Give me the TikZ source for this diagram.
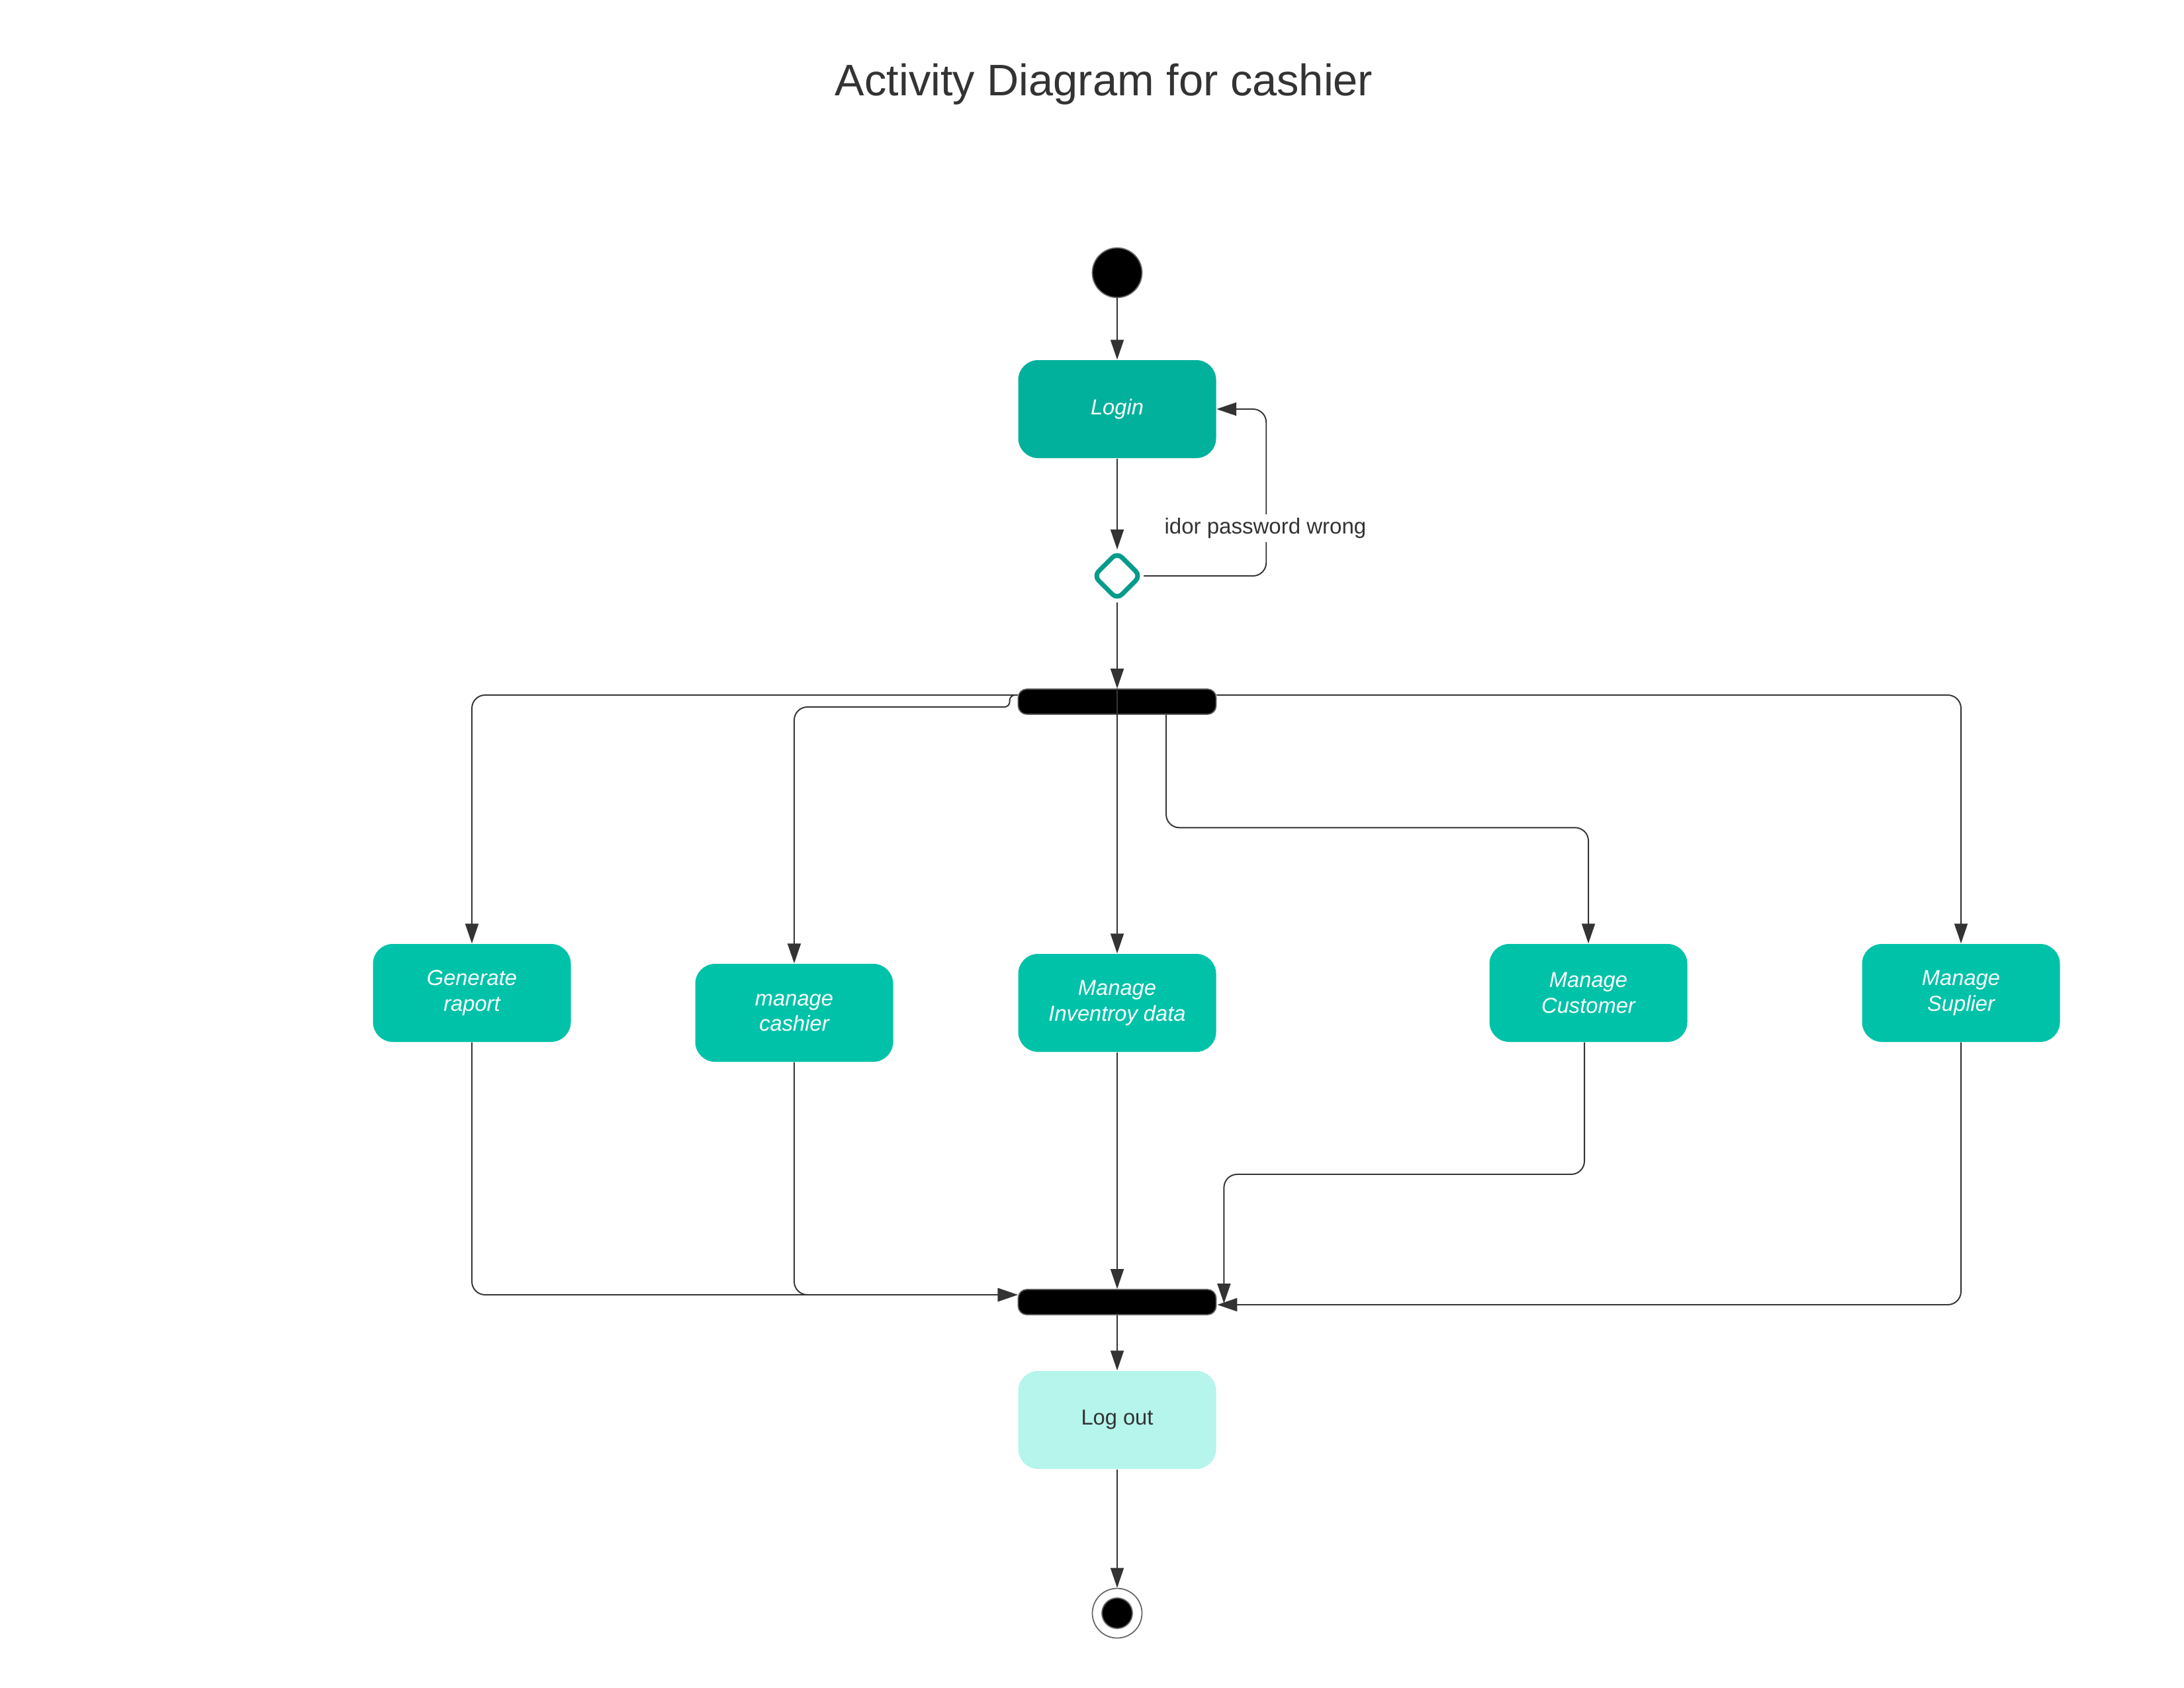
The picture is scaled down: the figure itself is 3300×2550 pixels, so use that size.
\documentclass[tikz,border=0pt]{standalone}
\usepackage{fontspec}
\setmainfont{Liberation Sans}
\usetikzlibrary{arrows.meta,shapes.geometric,calc}
\definecolor{ink}{HTML}{333333}
\definecolor{loginc}{HTML}{02B19C}
\definecolor{actc}{HTML}{00C2A8}
\definecolor{logoutc}{HTML}{B5F5EC}
\definecolor{diac}{HTML}{049B8B}
\begin{document}
\begin{tikzpicture}[x=0.1mm,y=-0.1mm,
  act/.style={rectangle, rounded corners=3mm, minimum width=29.9mm, minimum height=14.8mm, inner sep=0pt, align=center, text=white, font=\fontsize{9.3pt}{11pt}\selectfont\itshape, fill=actc},
  bar/.style={rectangle, rounded corners=1.3mm, minimum width=29.9mm, minimum height=3.8mm, fill=black, draw=black!65, line width=0.5pt, inner sep=0pt},
  conn/.style={draw=ink, line width=0.55pt, -{Triangle[length=3mm,width=2mm]}, rounded corners=2mm}
]
\useasboundingbox (0,0) rectangle (3300,2550);
\node[font=\fontsize{19pt}{22pt}\selectfont, text=ink, anchor=base] (title) at (1668,145) {Activity Diagram for cashier};
\node[circle, fill=black, draw=black!60, line width=0.5pt, minimum size=7.5mm, inner sep=0pt] (start) at (1688,412) {};
\node[act, fill=loginc] (login) at (1688,618) {Login};
\node[diamond, draw=diac, line width=2pt, fill=white, minimum size=7.3mm, inner sep=0pt, rounded corners=1mm] (dec) at (1688,870) {};
\node[bar] (fork1) at (1688,1060) {};
\node[act] (gen) at (713,1500) {Generate\\raport};
\node[act] (cash) at (1200,1530) {manage\\cashier};
\node[act] (inv) at (1688,1515) {Manage\\Inventroy data};
\node[act] (cust) at (2400,1500) {Manage\\Customer};
\node[act] (sup) at (2963,1500) {Manage\\Suplier};
\node[bar] (fork2) at (1688,1967) {};
\node[act, fill=logoutc, text=ink, font=\fontsize{9.3pt}{11pt}\selectfont] (logout) at (1688,2145) {Log out};
\node[circle, draw=black!60, fill=white, line width=0.5pt, minimum size=7.5mm, inner sep=0pt] (end) at (1688,2437) {};
\node[circle, fill=black, draw=black!60, line width=0.5pt, minimum size=4.6mm, inner sep=0pt] (endin) at (end.center) {};

\draw[conn] (start) -- (login);
\draw[conn] (login) -- (dec);
\draw[conn] (dec.east) -| ($(login.east)+(75,0)$) -- (login.east);
\node[fill=white, inner sep=1.5pt, font=\fontsize{9.4pt}{11pt}\selectfont, text=ink] (lbl) at (1912,798) {idor password wrong};
\draw[conn] (dec) -- (fork1);
\draw[conn] ($(fork1.west)+(0,-10)$) -| (gen.north);
\draw[conn] ($(fork1.west)+(0,-10)$) [rounded corners=0.8mm] -- ++(-12,0) -- ++(0,18) [rounded corners=2mm] -| (cash.north);
\draw[conn] (fork1.north) -- (inv.north);
\draw[conn] ($(fork1.south)+(74,0)$) |- ($(cust.north)+(0,-175)$) -- (cust.north);
\draw[conn] ($(fork1.east)+(0,-10)$) -| (sup.north);
\draw[conn] (gen.south) |- ($(fork2.west)+(0,-11)$);
\draw[conn] (cash.south) |- ($(fork2.west)+(0,-11)$);
\draw[conn] (inv) -- (fork2);
\draw[conn] ($(cust.south)+(-6,0)$) |- ($(fork2.east)+(11,-193)$) -- ($(fork2.east)+(11,2)$);
\draw[conn] (sup.south) |- ($(fork2.east)+(1,4)$);
\draw[conn] (fork2) -- (logout);
\draw[conn] (logout) -- (end);
\end{tikzpicture}
\end{document}
